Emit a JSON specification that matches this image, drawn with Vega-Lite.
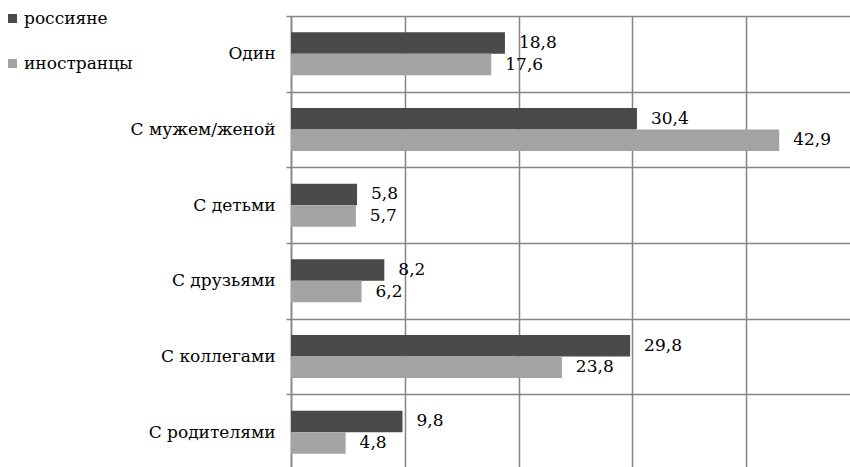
{
  "$schema": "https://vega.github.io/schema/vega-lite/v6.json",
  "autosize": "none",
  "padding": {"left": 291, "top": 16, "right": 0, "bottom": 0},
  "width": 569,
  "height": 454,
  "background": "white",
  "config": {
    "view": {"stroke": null},
    "font": "DejaVu Serif"
  },
  "data": {
    "values": [
      {"category": "Один", "group": "россияне", "value": 18.8, "label": "18,8"},
      {"category": "Один", "group": "иностранцы", "value": 17.6, "label": "17,6"},
      {"category": "С мужем/женой", "group": "россияне", "value": 30.4, "label": "30,4"},
      {"category": "С мужем/женой", "group": "иностранцы", "value": 42.9, "label": "42,9"},
      {"category": "С детьми", "group": "россияне", "value": 5.8, "label": "5,8"},
      {"category": "С детьми", "group": "иностранцы", "value": 5.7, "label": "5,7"},
      {"category": "С друзьями", "group": "россияне", "value": 8.2, "label": "8,2"},
      {"category": "С друзьями", "group": "иностранцы", "value": 6.2, "label": "6,2"},
      {"category": "С коллегами", "group": "россияне", "value": 29.8, "label": "29,8"},
      {"category": "С коллегами", "group": "иностранцы", "value": 23.8, "label": "23,8"},
      {"category": "С родителями", "group": "россияне", "value": 9.8, "label": "9,8"},
      {"category": "С родителями", "group": "иностранцы", "value": 4.8, "label": "4,8"}
    ]
  },
  "encoding": {
    "y": {
      "field": "category",
      "type": "nominal",
      "sort": ["Один", "С мужем/женой", "С детьми", "С друзьями", "С коллегами", "С родителями"],
      "scale": {"paddingInner": 0, "paddingOuter": 0},
      "axis": {
        "title": null,
        "tickBand": "extent",
        "grid": true,
        "gridColor": "#858585",
        "gridWidth": 1.5,
        "domainColor": "#858585",
        "domainWidth": 1.5,
        "tickColor": "#858585",
        "tickWidth": 1.5,
        "tickSize": 5,
        "labelPadding": 11,
        "labelFont": "DejaVu Serif",
        "labelFontSize": 17,
        "labelColor": "black"
      }
    },
    "yOffset": {
      "field": "group",
      "type": "nominal",
      "sort": ["россияне", "иностранцы"],
      "scale": {"paddingInner": 0, "paddingOuter": 0.76}
    },
    "x": {
      "field": "value",
      "type": "quantitative",
      "scale": {"domain": [0, 50], "nice": false},
      "axis": {
        "title": null,
        "values": [0, 10, 20, 30, 40, 50],
        "grid": true,
        "gridColor": "#858585",
        "gridWidth": 1.5,
        "labels": false,
        "ticks": false,
        "domain": false
      }
    }
  },
  "layer": [
    {
      "mark": {"type": "bar"},
      "encoding": {
        "color": {
          "field": "group",
          "type": "nominal",
          "sort": ["россияне", "иностранцы"],
          "scale": {"domain": ["россияне", "иностранцы"], "range": ["#4a4a4a", "#a3a3a3"]},
          "legend": {
            "title": null,
            "orient": "none",
            "legendX": -287,
            "legendY": -6,
            "symbolType": "square",
            "symbolSize": 81,
            "symbolStrokeWidth": 0,
            "labelFont": "DejaVu Serif",
            "labelFontSize": 17,
            "labelColor": "black",
            "labelOffset": 3,
            "rowPadding": 27
          }
        }
      }
    },
    {
      "mark": {"type": "text", "align": "left", "baseline": "middle", "dx": 14, "fontSize": 17, "font": "DejaVu Serif", "color": "black"},
      "encoding": {
        "text": {"field": "label"}
      }
    }
  ]
}
